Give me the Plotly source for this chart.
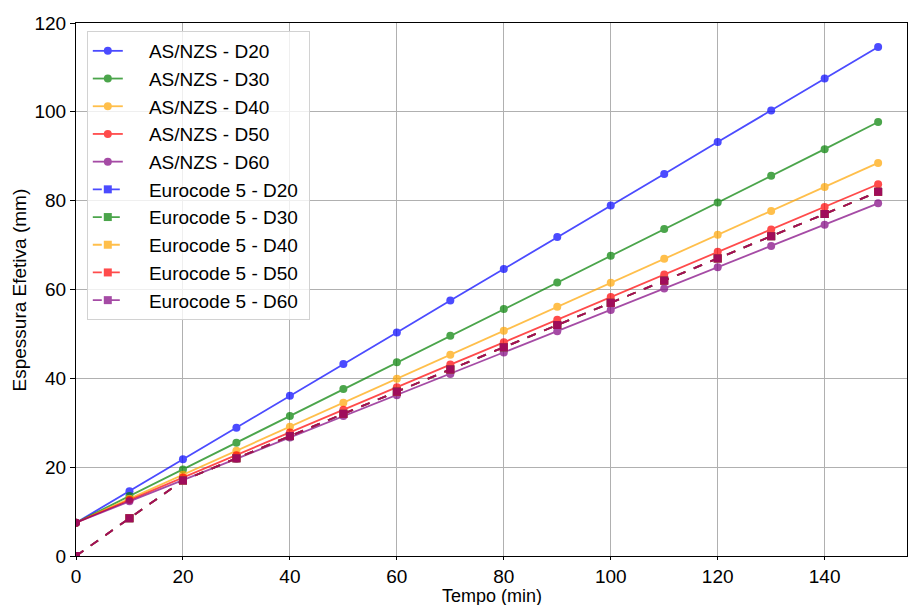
import plotly.graph_objects as go

tempo = [0, 10, 20, 30, 40, 50, 60, 70, 80, 90, 100, 110, 120, 130, 140, 150]

asnzs_d20 = [7.5, 14.6, 21.8, 28.9, 36.1, 43.2, 50.3, 57.5, 64.6, 71.8, 78.9, 86.0, 93.2, 100.3, 107.5, 114.6]
asnzs_d30 = [7.5, 13.5, 19.5, 25.5, 31.5, 37.6, 43.6, 49.6, 55.6, 61.6, 67.6, 73.6, 79.6, 85.6, 91.6, 97.7]
asnzs_d40 = [7.5, 12.9, 18.3, 23.7, 29.1, 34.5, 39.9, 45.3, 50.7, 56.1, 61.5, 66.9, 72.3, 77.7, 83.1, 88.5]
asnzs_d50 = [7.5, 12.6, 17.7, 22.7, 27.8, 32.9, 38.0, 43.1, 48.1, 53.2, 58.3, 63.4, 68.5, 73.5, 78.6, 83.7]
asnzs_d60 = [7.5, 12.3, 17.1, 21.9, 26.7, 31.5, 36.2, 41.0, 45.8, 50.6, 55.4, 60.2, 65.0, 69.8, 74.6, 79.4]

ec5_d20 = [0, 8.5, 17, 22, 27, 32, 37, 42, 47, 52, 57, 62, 67, 72, 77, 82]
ec5_d30 = [0, 8.5, 17, 22, 27, 32, 37, 42, 47, 52, 57, 62, 67, 72, 77, 82]
ec5_d40 = [0, 8.5, 17, 22, 27, 32, 37, 42, 47, 52, 57, 62, 67, 72, 77, 82]
ec5_d50 = [0, 8.5, 17, 22, 27, 32, 37, 42, 47, 52, 57, 62, 67, 72, 77, 82]
ec5_d60 = [0, 8.5, 17, 22, 27, 32, 37, 42, 47, 52, 57, 62, 67, 72, 77, 82]

labels = ["D20", "D30", "D40", "D50", "D60"]
colors = ["rgb(0,0,255)", "rgb(0,128,0)", "rgb(255,165,0)", "rgb(255,0,0)", "rgb(128,0,128)"]

x_title = "Tempo (min)"
y_title = "Espessura Efetiva (mm)"

asnzs = [asnzs_d20, asnzs_d30, asnzs_d40, asnzs_d50, asnzs_d60]
ec5 = [ec5_d20, ec5_d30, ec5_d40, ec5_d50, ec5_d60]

PAD = "\u00a0" * 4

fig = go.Figure()
for lab, col, ys in zip(labels, colors, asnzs):
    fig.add_trace(go.Scatter(
        x=tempo, y=ys, mode="lines+markers", name=f"{PAD}AS/NZS - {lab}",
        line=dict(color=col, width=1.8), marker=dict(symbol="circle", size=8, color=col),
        opacity=0.7))
for lab, col, ys in zip(labels, colors, ec5):
    fig.add_trace(go.Scatter(
        x=tempo, y=ys, mode="lines+markers", name=f"{PAD}Eurocode 5 - {lab}\u00a0",
        line=dict(color=col, width=1.8, dash="dash"), marker=dict(symbol="square", size=8, color=col),
        opacity=0.7))

axis_common = dict(
    showline=True, linecolor="black", linewidth=1, mirror=True,
    ticks="outside", tickcolor="black", tickwidth=1,
    showgrid=True, gridcolor="rgb(176,176,176)", gridwidth=1,
    zeroline=False, tickfont=dict(size=19, color="black"), automargin=False,
)

fig.update_layout(
    width=908, height=605,
    paper_bgcolor="white", plot_bgcolor="white",
    margin=dict(l=76, r=1, t=23, b=49),
    font=dict(family="Liberation Sans, Arial, sans-serif", color="black"),
    xaxis=dict(range=[0, 155.4], tickmode="array", tickvals=[0, 20, 40, 60, 80, 100, 120, 140],
               ticklen=3, **axis_common),
    yaxis=dict(range=[0, 120], tickmode="array", tickvals=[0, 20, 40, 60, 80, 100, 120],
               ticklen=5, **axis_common),
    legend=dict(x=0.013, y=0.985, xanchor="left", yanchor="top",
                bgcolor="rgba(255,255,255,0.8)", bordercolor="rgb(210,210,210)", borderwidth=1,
                font=dict(size=19), tracegroupgap=0),
    showlegend=True,
    annotations=[
        dict(text=x_title, xref="paper", yref="paper", x=0.5, y=-0.0753, xanchor="center", yanchor="middle",
             showarrow=False, font=dict(size=18), borderpad=0),
        dict(text=y_title, xref="paper", yref="paper", x=-0.0674, y=0.5, xanchor="center", yanchor="middle",
             textangle=-90, showarrow=False, font=dict(size=19)),
    ],
)

fig.write_html("out.html")
